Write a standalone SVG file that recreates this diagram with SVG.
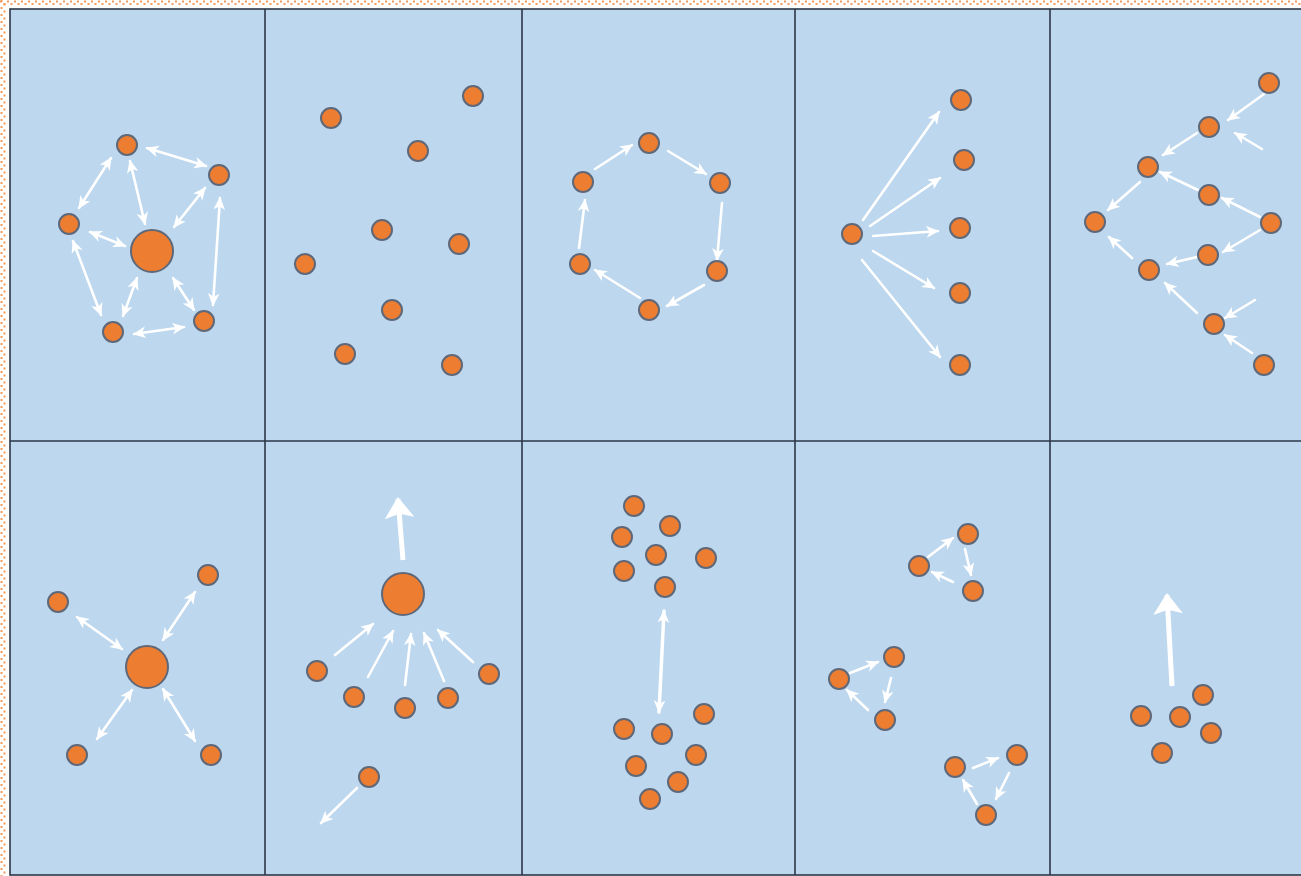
<svg xmlns="http://www.w3.org/2000/svg" width="1301" height="876" viewBox="0 0 1301 876">
<defs>
<style>
.n{fill:#ED7D31;stroke:#5F6878;stroke-width:2}
.a{stroke:#FFFFFF;stroke-width:2.6;fill:none;stroke-linecap:round}
.a1{marker-end:url(#ah)}
.a2{marker-end:url(#ah);marker-start:url(#ah)}
.ab{stroke:#FFFFFF;stroke-width:5;fill:none;marker-end:url(#ahb)}
.grid{stroke:#2B3646;stroke-width:1.6;fill:none}
.dot{stroke:#F39A5A;stroke-width:2;fill:none;stroke-dasharray:2 5}
</style>
<marker id="ah" markerUnits="userSpaceOnUse" markerWidth="14" markerHeight="14" viewBox="0 0 12 12" refX="10" refY="6" orient="auto-start-reverse">
<path d="M0,1 L11,6 L0,11 L3,6 Z" fill="#FFFFFF"/>
</marker>
<marker id="ahb" markerUnits="userSpaceOnUse" markerWidth="34" markerHeight="34" viewBox="0 0 32 32" refX="20" refY="16" orient="auto">
<path d="M2,2 L22,16 L2,30 L6,16 Z" fill="#FFFFFF"/>
</marker>
</defs>
<rect x="0" y="0" width="1301" height="876" fill="#FFFFFF"/>
<g id="selection-border">
<line class="dot" x1="0" y1="1.5" x2="1301" y2="1.5"/>
<line class="dot" x1="3.5" y1="4" x2="1301" y2="4" style="stroke-dashoffset:0"/>
<line class="dot" x1="1.5" y1="0" x2="1.5" y2="876"/>
<line class="dot" x1="4.5" y1="3.5" x2="4.5" y2="876"/>
</g>
<g id="panels">
<rect x="10" y="9" width="1300" height="866" fill="#BDD7EE"/>
<rect class="grid" x="10" y="9" width="1300" height="866"/>
<line class="grid" x1="265" y1="9" x2="265" y2="875"/>
<line class="grid" x1="522" y1="9" x2="522" y2="875"/>
<line class="grid" x1="795" y1="9" x2="795" y2="875"/>
<line class="grid" x1="1050" y1="9" x2="1050" y2="875"/>
<line class="grid" x1="10" y1="441" x2="1301" y2="441"/>
</g>
<g id="connectors">
<line class="a a2" x1="147" y1="148" x2="206" y2="166"/>
<line class="a a2" x1="111" y1="158" x2="79" y2="208"/>
<line class="a a2" x1="130" y1="161" x2="145" y2="224"/>
<line class="a a2" x1="205" y1="188" x2="174" y2="227"/>
<line class="a a2" x1="220" y1="198" x2="213" y2="305"/>
<line class="a a2" x1="90" y1="232" x2="125" y2="246"/>
<line class="a a2" x1="73" y1="241" x2="101" y2="315"/>
<line class="a a2" x1="123" y1="316" x2="137" y2="278"/>
<line class="a a2" x1="194" y1="310" x2="173" y2="278"/>
<line class="a a2" x1="134" y1="334" x2="184" y2="327"/>
<line class="a a1" x1="595" y1="169" x2="632" y2="145"/>
<line class="a a1" x1="668" y1="151" x2="706" y2="174"/>
<line class="a a1" x1="722" y1="203" x2="717" y2="260"/>
<line class="a a1" x1="704" y1="285" x2="667" y2="306"/>
<line class="a a1" x1="640" y1="298" x2="595" y2="270"/>
<line class="a a1" x1="579" y1="248" x2="585" y2="200"/>
<line class="a a1" x1="863" y1="220" x2="939" y2="112"/>
<line class="a a1" x1="870" y1="226" x2="940" y2="178"/>
<line class="a a1" x1="873" y1="236" x2="938" y2="231"/>
<line class="a a1" x1="873" y1="251" x2="934" y2="288"/>
<line class="a a1" x1="862" y1="260" x2="940" y2="357"/>
<line class="a a1" x1="1264" y1="94" x2="1228" y2="120"/>
<line class="a a1" x1="1262" y1="149" x2="1235" y2="133"/>
<line class="a a1" x1="1197" y1="133" x2="1163" y2="155"/>
<line class="a a1" x1="1198" y1="190" x2="1160" y2="172"/>
<line class="a a1" x1="1140" y1="182" x2="1108" y2="210"/>
<line class="a a1" x1="1260" y1="217" x2="1222" y2="198"/>
<line class="a a1" x1="1260" y1="230" x2="1223" y2="252"/>
<line class="a a1" x1="1197" y1="257" x2="1167" y2="264"/>
<line class="a a1" x1="1132" y1="258" x2="1109" y2="237"/>
<line class="a a1" x1="1197" y1="313" x2="1165" y2="283"/>
<line class="a a1" x1="1255" y1="300" x2="1225" y2="318"/>
<line class="a a1" x1="1252" y1="353" x2="1225" y2="335"/>
<line class="a a2" x1="77" y1="617" x2="122" y2="649"/>
<line class="a a2" x1="195" y1="592" x2="163" y2="640"/>
<line class="a a2" x1="97" y1="739" x2="132" y2="690"/>
<line class="a a2" x1="195" y1="741" x2="163" y2="689"/>
<line class="ab" x1="403" y1="560" x2="398" y2="499"/>
<line class="a a1" x1="335" y1="655" x2="373" y2="624"/>
<line class="a a1" x1="368" y1="677" x2="393" y2="631"/>
<line class="a a1" x1="405" y1="685" x2="411" y2="634"/>
<line class="a a1" x1="444" y1="681" x2="424" y2="633"/>
<line class="a a1" x1="473" y1="662" x2="438" y2="630"/>
<line class="a a1" x1="357" y1="788" x2="321" y2="823"/>
<line class="a a2" x1="664" y1="611" x2="659" y2="712" style="stroke-width:3.5"/>
<line class="a a1" x1="928" y1="557" x2="953" y2="538"/>
<line class="a a1" x1="965" y1="549" x2="971" y2="575"/>
<line class="a a1" x1="953" y1="582" x2="932" y2="572"/>
<line class="a a1" x1="850" y1="673" x2="878" y2="662"/>
<line class="a a1" x1="891" y1="678" x2="885" y2="702"/>
<line class="a a1" x1="868" y1="710" x2="847" y2="690"/>
<line class="a a1" x1="973" y1="768" x2="998" y2="758"/>
<line class="a a1" x1="1009" y1="773" x2="996" y2="799"/>
<line class="a a1" x1="977" y1="804" x2="963" y2="780"/>
<line class="ab" x1="1172" y1="686" x2="1167" y2="595"/>
</g>
<g id="panel1-nodes">
<circle class="n" cx="152" cy="251" r="21"/>
<circle class="n" cx="127" cy="145" r="10"/>
<circle class="n" cx="219" cy="175" r="10"/>
<circle class="n" cx="69" cy="224" r="10"/>
<circle class="n" cx="113" cy="332" r="10"/>
<circle class="n" cx="204" cy="321" r="10"/>
</g>
<g id="panel2-nodes">
<circle class="n" cx="331" cy="118" r="10"/>
<circle class="n" cx="473" cy="96" r="10"/>
<circle class="n" cx="418" cy="151" r="10"/>
<circle class="n" cx="382" cy="230" r="10"/>
<circle class="n" cx="459" cy="244" r="10"/>
<circle class="n" cx="305" cy="264" r="10"/>
<circle class="n" cx="392" cy="310" r="10"/>
<circle class="n" cx="345" cy="354" r="10"/>
<circle class="n" cx="452" cy="365" r="10"/>
</g>
<g id="panel3-nodes">
<circle class="n" cx="649" cy="143" r="10"/>
<circle class="n" cx="720" cy="183" r="10"/>
<circle class="n" cx="717" cy="271" r="10"/>
<circle class="n" cx="649" cy="310" r="10"/>
<circle class="n" cx="580" cy="264" r="10"/>
<circle class="n" cx="583" cy="182" r="10"/>
</g>
<g id="panel4-nodes">
<circle class="n" cx="852" cy="234" r="10"/>
<circle class="n" cx="961" cy="100" r="10"/>
<circle class="n" cx="964" cy="160" r="10"/>
<circle class="n" cx="960" cy="228" r="10"/>
<circle class="n" cx="960" cy="293" r="10"/>
<circle class="n" cx="960" cy="365" r="10"/>
</g>
<g id="panel5-nodes">
<circle class="n" cx="1269" cy="83" r="10"/>
<circle class="n" cx="1209" cy="127" r="10"/>
<circle class="n" cx="1148" cy="167" r="10"/>
<circle class="n" cx="1209" cy="195" r="10"/>
<circle class="n" cx="1095" cy="222" r="10"/>
<circle class="n" cx="1271" cy="223" r="10"/>
<circle class="n" cx="1208" cy="255" r="10"/>
<circle class="n" cx="1149" cy="270" r="10"/>
<circle class="n" cx="1214" cy="324" r="10"/>
<circle class="n" cx="1264" cy="365" r="10"/>
</g>
<g id="panel6-nodes">
<circle class="n" cx="147" cy="667" r="21"/>
<circle class="n" cx="58" cy="602" r="10"/>
<circle class="n" cx="208" cy="575" r="10"/>
<circle class="n" cx="77" cy="755" r="10"/>
<circle class="n" cx="211" cy="755" r="10"/>
</g>
<g id="panel7-nodes">
<circle class="n" cx="403" cy="594" r="21"/>
<circle class="n" cx="317" cy="671" r="10"/>
<circle class="n" cx="354" cy="697" r="10"/>
<circle class="n" cx="405" cy="708" r="10"/>
<circle class="n" cx="448" cy="698" r="10"/>
<circle class="n" cx="489" cy="674" r="10"/>
<circle class="n" cx="369" cy="777" r="10"/>
</g>
<g id="panel8-nodes">
<circle class="n" cx="634" cy="506" r="10"/>
<circle class="n" cx="670" cy="526" r="10"/>
<circle class="n" cx="622" cy="537" r="10"/>
<circle class="n" cx="656" cy="555" r="10"/>
<circle class="n" cx="706" cy="558" r="10"/>
<circle class="n" cx="624" cy="571" r="10"/>
<circle class="n" cx="665" cy="587" r="10"/>
<circle class="n" cx="704" cy="714" r="10"/>
<circle class="n" cx="624" cy="729" r="10"/>
<circle class="n" cx="662" cy="734" r="10"/>
<circle class="n" cx="696" cy="755" r="10"/>
<circle class="n" cx="636" cy="766" r="10"/>
<circle class="n" cx="678" cy="782" r="10"/>
<circle class="n" cx="650" cy="799" r="10"/>
</g>
<g id="panel9-nodes">
<circle class="n" cx="968" cy="534" r="10"/>
<circle class="n" cx="919" cy="566" r="10"/>
<circle class="n" cx="973" cy="591" r="10"/>
<circle class="n" cx="894" cy="657" r="10"/>
<circle class="n" cx="839" cy="679" r="10"/>
<circle class="n" cx="885" cy="720" r="10"/>
<circle class="n" cx="1017" cy="755" r="10"/>
<circle class="n" cx="955" cy="767" r="10"/>
<circle class="n" cx="986" cy="815" r="10"/>
</g>
<g id="panel10-nodes">
<circle class="n" cx="1203" cy="695" r="10"/>
<circle class="n" cx="1141" cy="716" r="10"/>
<circle class="n" cx="1180" cy="717" r="10"/>
<circle class="n" cx="1211" cy="733" r="10"/>
<circle class="n" cx="1162" cy="753" r="10"/>
</g>
</svg>
